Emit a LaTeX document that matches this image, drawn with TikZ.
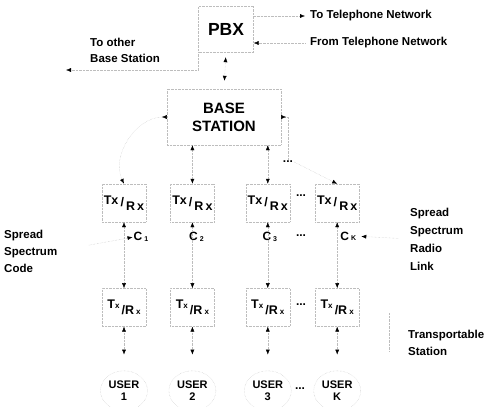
\documentclass[tikz,border=0pt]{standalone}
\usepackage{fontspec}
\setmainfont{Liberation Sans}
\usetikzlibrary{shapes.geometric, arrows.meta, positioning, calc}
\definecolor{FadedGrey}{HTML}{BDBDBD}
\tikzset{back/.tip={Latex[black,reversed,length=5pt,width=4pt]}}

\begin{document}
\begin{tikzpicture}[x=1pt, y=-1pt, >={Latex[black,length=5pt,width=4pt]}, every node/.style={font=\bfseries}]
    \tikzstyle{block} = [rectangle, draw=FadedGrey, densely dotted, minimum width=44pt, minimum height=38pt, inner sep=1pt, font=\bfseries\fontsize{12.5}{13}\selectfont]
    \tikzstyle{user} = [ellipse, draw=FadedGrey, densely dotted, minimum width=47pt, minimum height=40pt, inner sep=0pt, align=center, font=\bfseries\fontsize{11}{12.5}\selectfont]
    \tikzstyle{line} = [draw=FadedGrey, densely dotted, ->]
    \tikzstyle{note} = [align=left, anchor=west, inner sep=0pt, font=\bfseries\fontsize{11.5}{17}\selectfont]
    \tikzstyle{code} = [inner sep=1pt, font=\bfseries\fontsize{12}{13}\selectfont]

    \useasboundingbox (0,0) rectangle (491,407);

    % exchange and base station
    \node [rectangle, draw=FadedGrey, densely dotted, minimum width=55pt, minimum height=46pt, font=\bfseries\fontsize{17.5}{17}\selectfont] (pbx) at (226,29) {PBX};
    \node [note] (totel) at (310,16) {To Telephone Network};
    \node [note] (fromtel) at (310,43) {From Telephone Network};
    \node [note, font=\bfseries\fontsize{11.5}{16}\selectfont] (other) at (90,50) {To other\\Base Station};
    \node [rectangle, draw=FadedGrey, densely dotted, align=center, minimum width=114pt, minimum height=56pt, font=\bfseries\fontsize{15}{18}\selectfont] (base) at (224,117) {BASE\\STATION};
    \coordinate (otherend) at (66,70);

    % upper transceivers
    \node [block] (tr1) at (124,203) {Tx\,\raisebox{-2pt}{/}\,\raisebox{-6pt}{R\,x}};
    \node [block, right=24pt of tr1] (tr2) {Tx\,\raisebox{-2pt}{/}\,\raisebox{-6pt}{R\,x}};
    \node [block, right=31pt of tr2] (tr3) {Tx\,\raisebox{-2pt}{/}\,\raisebox{-6pt}{R\,x}};
    \node [block, right=25pt of tr3] (trK) {Tx\,\raisebox{-2pt}{/}\,\raisebox{-6pt}{R\,x}};

    % transportable stations
    \node [block, below=66pt of tr1] (rx1) {T{\footnotesize x}\,\raisebox{-6pt}{/R\,{\footnotesize x}}};
    \node [block, below=66pt of tr2] (rx2) {T{\footnotesize x}\,\raisebox{-6pt}{/R\,{\footnotesize x}}};
    \node [block, below=66pt of tr3] (rx3) {T{\footnotesize x}\,\raisebox{-6pt}{/R\,{\footnotesize x}}};
    \node [block, below=66pt of trK] (rxK) {T{\footnotesize x}\,\raisebox{-6pt}{/R\,{\footnotesize x}}};

    \node [user, below=44pt of rx1] (u1) {USER\\1};
    \node [user, below=44pt of rx2] (u2) {USER\\2};
    \node [user, below=44pt of rx3] (u3) {USER\\3};
    \node [user, below=44pt of rxK] (uK) {USER\\K};

    % spreading codes
    \node [code] (c1) at ($(tr1.south)+(17,15)$) {C\,\raisebox{-1pt}{\scriptsize 1}};
    \node [code] (c2) at ($(tr2.south)+(4,15)$) {C\,\raisebox{-1pt}{\scriptsize 2}};
    \node [code] (c3) at ($(tr3.south)+(2,15)$) {C\,\raisebox{-1pt}{\scriptsize 3}};
    \node [code] (cK) at ($(trK.south)+(11,14)$) {C\,{\scriptsize K}};

    % dots between columns
    \node [code] (dots1) at (288,162) {...};
    \node [code] (dots2) at (301,196) {...};
    \node [code] (dots3) at (301,236) {...};
    \node [code] (dots4) at (301,305) {...};
    \node [code] (dots5) at (300,389) {...};

    % side labels
    \node [note] (ssc) at (4,251) {Spread\\Spectrum\\Code};
    \node [note, font=\bfseries\fontsize{11.5}{18}\selectfont] (radio) at (410,239) {Spread\\Spectrum\\Radio\\Link};
    \node [note] (trans) at (408,343) {Transportable\\Station};
    \draw [FadedGrey, densely dotted] ($(trans.west)+(-19,-30)$) -- ($(trans.west)+(-19,9)$);

    % connectors
    \path [line] (pbx.east |- totel) -- ([xshift=-5pt]totel.west);
    \path [line] ([xshift=-5pt]fromtel.west) -- (pbx.east |- fromtel);
    \path [line] (pbx.south west) |- (otherend);
    \path [line, <->, shorten <=5pt, shorten >=8pt] (pbx.south) -- (base.north);

    \path [line, arrows={back-Latex[black,length=5pt,width=4pt]}] (base.west) to[out=180, in=115] (tr1.north);
    \path [line, <->] (base.south -| tr2) -- (tr2.north);
    \path [line, <->] (base.south -| tr3) -- (tr3.north);
    \path [draw=FadedGrey, densely dotted, arrows={back-}] (base.east) -| (dots1.north);
    \path [line] (dots1.east) -- (trK.north);

    \path [line, <->] (tr1.south) -- (rx1.north);
    \path [line, <->] (tr2.south) -- (rx2.north);
    \path [line, <->] (tr3.south) -- (rx3.north);
    \path [line, <->] (trK.south) -- (rxK.north);

    \path [line, shorten <=32pt] (ssc.east) -- (c1.west);
    \path [line, shorten <=12pt, shorten >=4pt] (radio.west) -- (cK.east);

    \path [line, <->, shorten >=16pt] (rx1.south) -- (u1.north);
    \path [line, <->, shorten >=16pt] (rx2.south) -- (u2.north);
    \path [line, <->, shorten >=16pt] (rx3.south) -- (u3.north);
    \path [line, <->, shorten >=16pt] (rxK.south) -- (uK.north);
\end{tikzpicture}
\end{document}
